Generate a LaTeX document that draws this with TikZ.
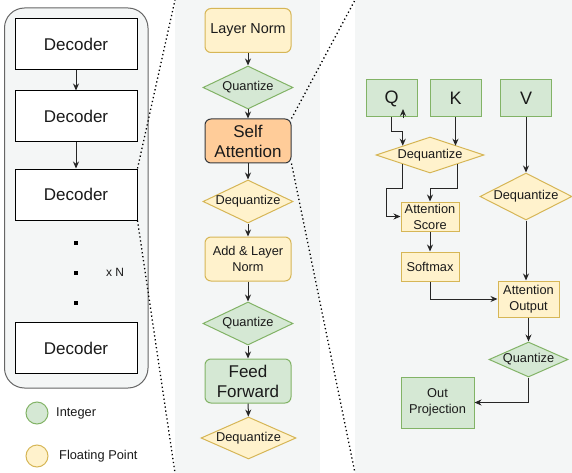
\documentclass[tikz,border=0pt]{standalone}
\usepackage{fontspec}
\setmainfont{Liberation Sans}
\usetikzlibrary{shapes.geometric,arrows.meta,calc}
\definecolor{gfill}{HTML}{D5E8D4}
\definecolor{gline}{HTML}{82B366}
\definecolor{yfill}{HTML}{FFF2CC}
\definecolor{yline}{HTML}{D6B656}
\definecolor{ofill}{HTML}{FFCC99}
\definecolor{oline}{HTML}{36393D}
\definecolor{panelbg}{HTML}{F4F6F6}
\definecolor{txt}{HTML}{1A1A1A}
\newcommand{\fs}[2]{\fontsize{#1}{#2}\selectfont}
\begin{document}
\begin{tikzpicture}[x=1pt,y=-1pt,
  every node/.style={text=txt,inner sep=0pt,align=center},
  dec/.style={draw=black,fill=white,line width=1pt,minimum width=122pt,minimum height=51pt,font=\fs{17}{20}},
  ybox/.style={draw=yline,fill=yfill,line width=1pt,rounded corners=6pt,minimum width=86pt,minimum height=44pt,font=\fs{12.8}{15.7}},
  gbox/.style={draw=gline,fill=gfill,line width=1pt,rounded corners=6pt,minimum width=86pt,minimum height=44pt,font=\fs{17}{20}},
  obox/.style={draw=oline,fill=ofill,line width=1pt,rounded corners=6pt,minimum width=86pt,minimum height=44pt,font=\fs{17}{20}},
  ydia/.style={diamond,draw=yline,fill=yfill,line width=1pt,font=\fs{12.8}{15}},
  gdia/.style={diamond,draw=gline,fill=gfill,line width=1pt,font=\fs{12.8}{15}},
  ysq/.style={draw=yline,fill=yfill,line width=1pt,font=\fs{12.8}{16}},
  gsq/.style={draw=gline,fill=gfill,line width=1pt,font=\fs{12.8}{16}},
  arr/.style={draw=black!85,line width=1pt,-{Stealth[length=7pt,width=6pt]}},
  zoomline/.style={draw=black,line width=1.3pt,dash pattern=on 1.3pt off 2.7pt},
  dotsq/.style={fill=black,minimum size=4pt}
]
\useasboundingbox (0,0) rectangle (572,473);
% panels
\fill[panelbg] (175,0) rectangle (320,473);
\fill[panelbg] (355,0) rectangle (572,473);
\draw[draw=black!60,fill=panelbg,line width=1pt,rounded corners=20pt] (4.5,8) rectangle (148,388);

% left column
\node[dec] (d1) at (76,44.5) {Decoder};
\node[dec] (d2) at (76,116.5) {Decoder};
\node[dec] (d3) at (76,194.5) {Decoder};
\node[dec] (d4) at (76,348) {Decoder};
\node[dotsq] (p1) at (76,243) {};
\node[dotsq] (p2) at (76,273) {};
\node[dotsq] (p3) at (76,303) {};
\node[font=\fs{12}{14}] (xn) at (115,272) {x N};
\draw[arr] (d1.south) -- (d2.north);
\draw[arr] (d2.south) -- (d3.north);

% legend
\node[circle,draw=gline,fill=gfill,line width=1pt,minimum size=22pt] (lg) at (37,413) {};
\node[anchor=west,font=\fs{12.8}{15}] (lgt) at (56,413) {Integer};
\node[circle,draw=yline,fill=yfill,line width=1pt,minimum size=22pt] (ly) at (37,456) {};
\node[anchor=west,font=\fs{12.8}{15}] (lyt) at (59,456) {Floating Point};

% middle column
\node[ybox,font=\fs{14.4}{17}] (ln) at (248,30.5) {Layer Norm};
\node[gdia,minimum width=90pt,minimum height=43pt,aspect=2.1] (q1) at (248,87.5) {Quantize};
\node[obox] (sa) at (248,141) {Self\\Attention};
\node[ydia,minimum width=90pt,minimum height=43pt,aspect=2.1] (dq1) at (248,201.5) {Dequantize};
\node[ybox] (aln) at (248,259) {Add \& Layer\\Norm};
\node[gdia,minimum width=90pt,minimum height=43pt,aspect=2.1] (q2) at (248,323.5) {Quantize};
\node[gbox] (ff) at (248,381) {Feed\\Forward};
\node[ydia,minimum width=95pt,minimum height=42pt,aspect=2.26] (dq2) at (248.5,438) {Dequantize};
\draw[arr] (ln) -- (q1);
\draw[arr] (q1) -- (sa);
\draw[arr] (sa) -- (dq1);
\draw[arr] (dq1) -- (aln);
\draw[arr] (aln) -- (q2);
\draw[arr] (q2) -- (ff);
\draw[arr] (ff) -- (dq2);

% zoom lines
\coordinate (zt1) at (175,0);
\coordinate (zb1) at (175,473);
\coordinate (zt2) at (355,0);
\coordinate (zb2) at (355,473);
\draw[zoomline] (d3.north east) -- (zt1);
\draw[zoomline] (d3.south east) -- (zb1);
\draw[zoomline] (sa.north east) -- (zt2);
\draw[zoomline] (sa.south east) -- (zb2);

% right panel
\node[gsq,minimum width=51pt,minimum height=37pt,font=\fs{18}{20}] (Q) at (391.5,98.5) {Q};
\node[gsq,minimum width=51pt,minimum height=37pt,font=\fs{18}{20}] (K) at (455.5,98.5) {K};
\node[gsq,minimum width=51pt,minimum height=37pt,font=\fs{18}{20}] (V) at (526,98.5) {V};
\node[ydia,minimum width=108pt,minimum height=36pt,aspect=3] (dqk) at (430,155) {Dequantize};
\node[ydia,minimum width=92pt,minimum height=47pt,aspect=1.96] (dv) at (526,196.5) {Dequantize};
\node[ysq,minimum width=58pt,minimum height=29pt] (as) at (430,216.5) {Attention\\Score};
\node[ysq,minimum width=58pt,minimum height=29pt] (sm) at (430,266.5) {Softmax};
\node[ysq,minimum width=61pt,minimum height=36pt] (ao) at (528.5,299) {Attention\\Output};
\node[gdia,minimum width=79pt,minimum height=35pt,aspect=2.26] (qz) at (528.5,359.5) {Quantize};
\node[gsq,minimum width=73pt,minimum height=51pt] (op) at (437.5,402.5) {Out\\Projection};

\coordinate (qtail) at (403,118.5);
\coordinate (qtip) at (403,109);
\draw[arr] (qtail) -- (qtip);
\draw[arr] (Q.south) -- ++(0,14) -| (dqk.north west);
\draw[arr] (K.south) -- (K.south |- dqk.north east);
\draw[arr] (dqk.south west) -- ++(0,24) -- ++(-16,0) |- (as.west);
\draw[arr] (dqk.south east) -- ++(0,24) -| (as.north);
\draw[arr] (as) -- (sm);
\draw[arr] (V) -- (dv);
\draw[arr] (dv.south) -- (dv.south |- ao.north);
\draw[arr] (sm.south) |- (ao.west);
\draw[arr] (ao.south) -- (ao.south |- qz.north);
\draw[arr] (qz.south) |- (op.east);
\end{tikzpicture}
\end{document}
